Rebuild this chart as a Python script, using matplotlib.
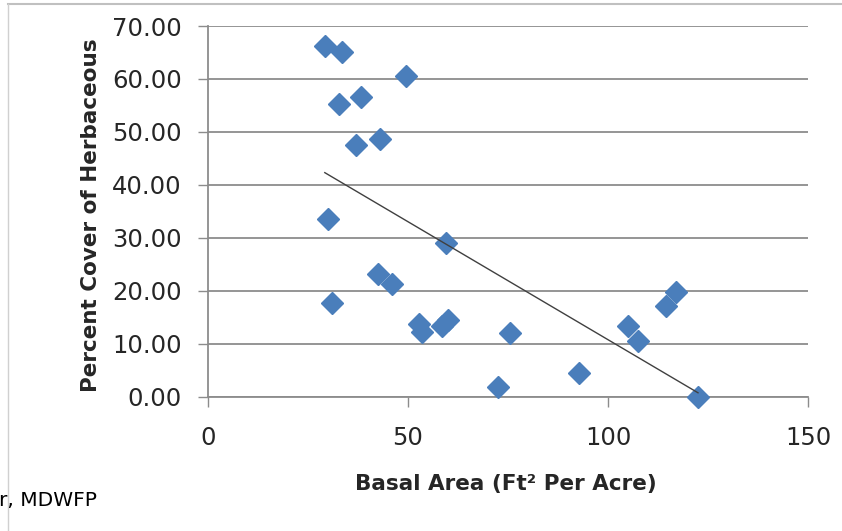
import numpy as np
import matplotlib
matplotlib.use("Agg")
import matplotlib.pyplot as plt
from matplotlib.lines import Line2D

# basal area (ft^2 per acre) vs percent herbaceous cover
basal_area = [29.2, 33.4, 49.6, 32.7, 38.2, 36.9, 42.9, 30.0, 59.6, 42.5,
              45.9, 31.1, 52.8, 53.5, 58.4, 60.0, 75.4, 72.5, 92.8, 105.0,
              107.5, 114.6, 116.9, 122.5]
herb_cover = [66.2, 65.1, 60.6, 55.3, 56.6, 47.5, 48.6, 33.5, 29.0, 23.2,
              21.2, 17.7, 13.7, 12.2, 13.4, 14.5, 12.1, 1.9, 4.5, 13.3,
              10.6, 17.2, 19.7, 0.0]

x_ticks = [0, 50, 100, 150]
y_ticks = [0, 10, 20, 30, 40, 50, 60, 70]

W, H = 842, 531
fig = plt.figure(figsize=(W / 100, H / 100), dpi=100)
ax = fig.add_axes([208 / W, 1 - 396.7 / H, 600 / W, 370.7 / H])

grid_c = "#8c8c8c"
ax.set_xlim(0, 150)
ax.set_ylim(0, 70)
ax.set_xticks(x_ticks)
ax.set_yticks(y_ticks)
ax.set_yticklabels([f"{v:.2f}" for v in y_ticks])
ax.yaxis.grid(True, color=grid_c, lw=1.3)
ax.set_axisbelow(True)
for s in ["top", "right"]:
    ax.spines[s].set_visible(False)
for s in ["left", "bottom"]:
    ax.spines[s].set_color(grid_c)
    ax.spines[s].set_linewidth(1.3)
ax.tick_params(axis="both", direction="out", length=7, width=1.0, color=grid_c,
               labelsize=17.5, labelcolor="#262626")
ax.tick_params(axis="y", pad=12)
ax.tick_params(axis="x", pad=14)

# data points
x = np.array(basal_area)
y = np.array(herb_cover)
ax.plot(x, y, linestyle="none", marker="D", markersize=11.5,
        color="#4a7ebb", markeredgecolor="#4a7ebb", zorder=3, clip_on=False)

# linear trendline
m, b = np.polyfit(x, y, 1)
tx = np.array([x.min(), x.max()])
ax.plot(tx, m * tx + b, color="#404040", lw=1.0, zorder=4)

fig.text(506 / W, 1 - 484 / H, "Basal Area (Ft² Per Acre)", ha="center", va="center",
         fontsize=15.5, fontweight="bold", color="#262626")
fig.text(91 / W, 1 - 215 / H, "Percent Cover of Herbaceous", ha="center", va="center",
         rotation=90, fontsize=15.5, fontweight="bold", color="#262626")
fig.text(-1 / W, 1 - 500 / H, "r, MDWFP", ha="left", va="center", fontsize=14.5, color="black")

# page border lines
fig.add_artist(Line2D([8 / W, 1], [1 - 4 / H, 1 - 4 / H], color="#c0c0c0", lw=1.5))
fig.add_artist(Line2D([8 / W, 8 / W], [0, 1 - 4 / H], color="#d0d0d0", lw=1.0))

fig.savefig("out.png", dpi=100)
